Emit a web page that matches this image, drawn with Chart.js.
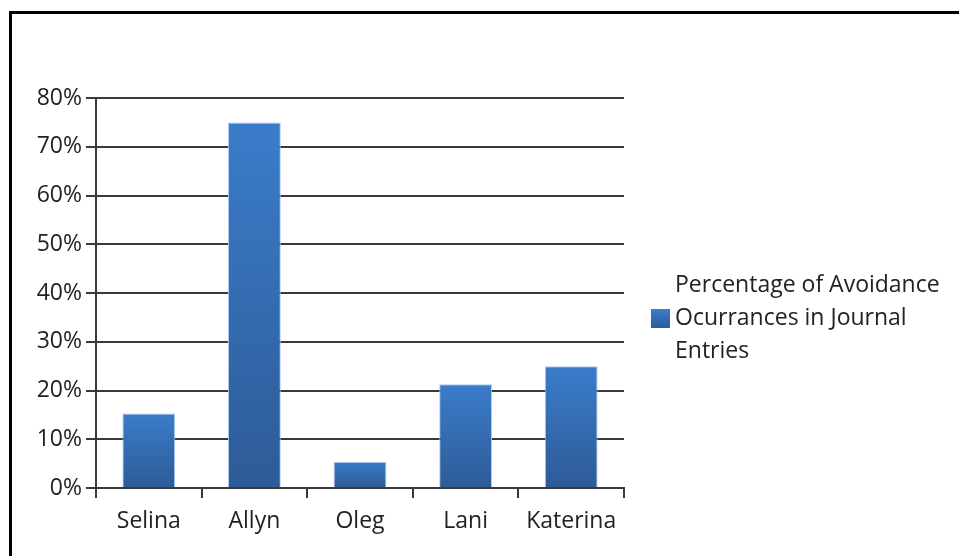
<!DOCTYPE html>
<html>
<head>
<meta charset="utf-8">
<script src="https://cdn.jsdelivr.net/npm/chart.js@4/dist/chart.umd.min.js"></script>
<style>
  html, body { margin: 0; padding: 0; background: #fff; overflow: hidden; }
  #wrap { position: absolute; left: 0; top: 0; width: 959px; height: 556px; }
  #frame { position: absolute; left: 9px; top: 11px; width: 1000px; height: 600px; border: 3px solid #000; box-sizing: border-box; }
  canvas { position: absolute; left: 0; top: 0; }
</style>
</head>
<body>
<div id="wrap">
  <div id="frame"></div>
  <canvas id="avoidChart" width="959" height="556"></canvas>
</div>
<script>
// data
const names = ['Selina', 'Allyn', 'Oleg', 'Lani', 'Katerina'];
const avoidancePct = [15.3, 75, 5.4, 21.3, 25];
const yTicks = [0, 10, 20, 30, 40, 50, 60, 70, 80];
const seriesLabel = ['Percentage of Avoidance', 'Ocurrances in Journal', 'Entries'];

const FONT = "'Open Sans', sans-serif";
const TEXT = '#222222';
const BAR_TOP = '#3b7cca';
const BAR_BOTTOM = '#2d5b97';

// simple right-hand legend, wrapped over three lines like the original
const sideLegend = {
  id: 'sideLegend',
  afterDraw(chart) {
    const ctx = chart.ctx;
    const x = 651, midY = 318, lineGap = 33;
    ctx.save();
    const g = ctx.createLinearGradient(0, midY - 9, 0, midY + 10);
    g.addColorStop(0, BAR_TOP);
    g.addColorStop(1, BAR_BOTTOM);
    ctx.fillStyle = g;
    ctx.fillRect(x, midY - 9, 19, 19);
    ctx.font = '23px ' + FONT;
    ctx.fillStyle = TEXT;
    ctx.textBaseline = 'middle';
    seriesLabel.forEach((line, i) => {
      ctx.fillText(line, x + 24, midY + (i - 1) * lineGap);
    });
    ctx.restore();
  }
};

new Chart(document.getElementById('avoidChart'), {
  type: 'bar',
  data: {
    labels: names,
    datasets: [{
      label: seriesLabel.join(' '),
      data: avoidancePct,
      backgroundColor: function(context) {
        const chart = context.chart;
        if (!chart.chartArea || context.type !== 'data') return BAR_TOP;
        const y = chart.scales.y;
        const top = y.getPixelForValue(context.raw);
        const bottom = y.getPixelForValue(0);
        const g = chart.ctx.createLinearGradient(0, top, 0, bottom);
        g.addColorStop(0, BAR_TOP);
        g.addColorStop(1, BAR_BOTTOM);
        return g;
      },
      borderColor: 'rgba(165, 196, 236, 0.9)',
      borderWidth: 1,
      barPercentage: 0.5,
      categoryPercentage: 1
    }]
  },
  options: {
    responsive: false,
    animation: false,
    layout: { padding: { left: 0, right: 335, top: 98, bottom: 8 } },
    plugins: {
      legend: { display: false },
      tooltip: { enabled: false }
    },
    scales: {
      x: {
        grid: {
          offset: true,
          drawOnChartArea: true,
          color: (c) => c.index === names.length ? '#b3b3b3' : 'rgba(0,0,0,0)',
          tickColor: '#3a3a3a',
          tickLength: 10,
          lineWidth: 2
        },
        border: { display: true, color: '#3a3a3a', width: 2 },
        ticks: { color: TEXT, font: { family: FONT, size: 23 }, padding: 10 },
        afterFit: (s) => { s.height = 60; }
      },
      y: {
        min: 0,
        max: 80,
        afterBuildTicks: (s) => { s.ticks = yTicks.map(v => ({ value: v })); },
        grid: { color: '#3a3a3a', lineWidth: 2, tickLength: 10, tickColor: '#3a3a3a' },
        border: { display: true, color: '#3a3a3a', width: 2 },
        ticks: {
          color: TEXT,
          font: { family: FONT, size: 23 },
          padding: 4,
          callback: (v) => v + '%'
        },
        afterFit: (s) => { s.width = 96; }
      }
    }
  },
  plugins: [sideLegend]
});
</script>
</body>
</html>
